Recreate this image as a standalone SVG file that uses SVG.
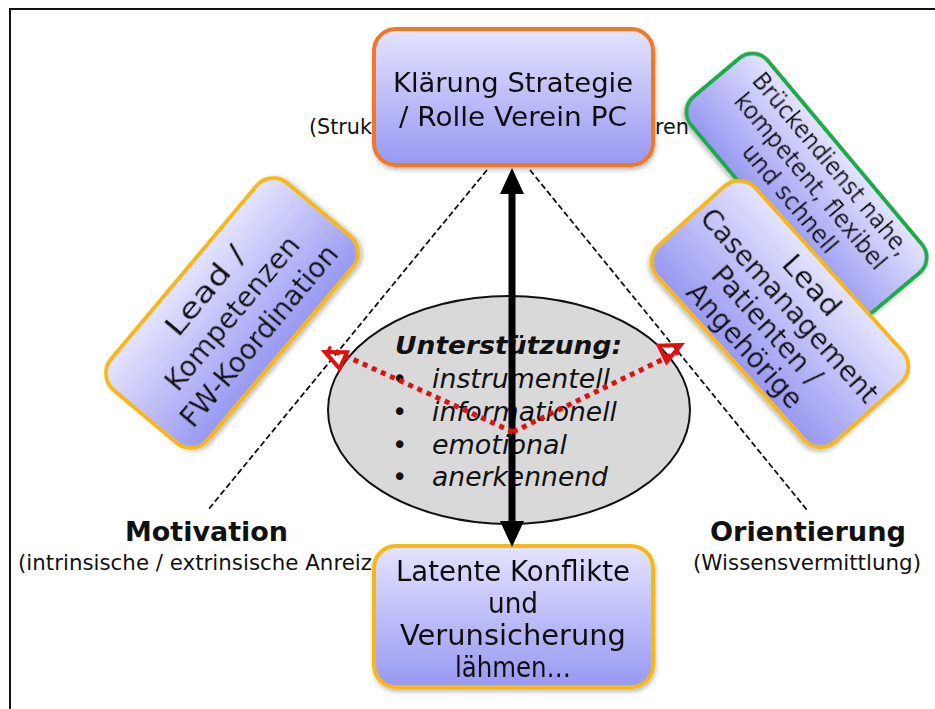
<svg xmlns="http://www.w3.org/2000/svg" width="935" height="709" viewBox="0 0 935 709">
<style>
.t{font-family:"DejaVu Sans","Verdana",sans-serif;fill:#111}
.box{stroke-width:4}
.dash{stroke:#111;stroke-width:1.8;stroke-dasharray:6 3;fill:none}
</style>
<defs>
<linearGradient id="g" x1="0" y1="0" x2="0" y2="1">
<stop offset="0" stop-color="#E4E4FF"/>
<stop offset="1" stop-color="#9898F2"/>
</linearGradient>
<marker id="ra" markerWidth="10" markerHeight="10" refX="7" refY="5" orient="auto" markerUnits="userSpaceOnUse" viewBox="0 0 10 10" overflow="visible">
<path d="M8,0 L-12,-9 L-12,9 Z" fill="none" stroke="#E01010" stroke-width="4" stroke-linejoin="miter"/>
</marker>
<filter id="sh" x="-10%" y="-10%" width="120%" height="130%">
<feDropShadow dx="1" dy="3" stdDeviation="2" flood-color="#000" flood-opacity="0.25"/>
</filter>
</defs>
<rect width="935" height="709" fill="#fff"/>
<path d="M10,709 V9 H935" fill="none" stroke="#111" stroke-width="2"/>

<g id="labels">
<text class="t" x="309" y="134" font-size="21" textLength="63" lengthAdjust="spacingAndGlyphs">(Struk</text>
<text class="t" x="655" y="134" font-size="21" textLength="34" lengthAdjust="spacingAndGlyphs">ren</text>
<text class="t" x="125" y="541" font-size="26" font-weight="bold" textLength="163" lengthAdjust="spacingAndGlyphs">Motivation</text>
<text class="t" x="18" y="570" font-size="21" textLength="354" lengthAdjust="spacingAndGlyphs">(intrinsische / extrinsische Anreiz</text>
<text class="t" x="710" y="541" font-size="26" font-weight="bold" textLength="196" lengthAdjust="spacingAndGlyphs">Orientierung</text>
<text class="t" x="693" y="570" font-size="21" textLength="228" lengthAdjust="spacingAndGlyphs">(Wissensvermittlung)</text>
</g>

<g id="guides">
<line class="dash" x1="487" y1="170" x2="208" y2="510"/>
<line class="dash" x1="530" y1="170" x2="807" y2="510"/>
</g>

<g id="unterstuetzung">
<ellipse cx="509" cy="410" rx="181" ry="114" fill="#D9D9D9" stroke="#111" stroke-width="2"/>
<text class="t" x="395" y="354" font-size="25" font-weight="bold" font-style="italic" textLength="227" lengthAdjust="spacingAndGlyphs">Unterstützung:</text>
<g font-size="26" font-style="italic">
<text class="t" x="392" y="388" font-style="normal">•</text>
<text class="t" x="432" y="388" textLength="178" lengthAdjust="spacingAndGlyphs">instrumentell</text>
<text class="t" x="392" y="421" font-style="normal">•</text>
<text class="t" x="432" y="421" textLength="185" lengthAdjust="spacingAndGlyphs">informationell</text>
<text class="t" x="392" y="454" font-style="normal">•</text>
<text class="t" x="432" y="454" textLength="135" lengthAdjust="spacingAndGlyphs">emotional</text>
<text class="t" x="392" y="486" font-style="normal">•</text>
<text class="t" x="432" y="486" textLength="176" lengthAdjust="spacingAndGlyphs">anerkennend</text>
</g>
</g>

<g id="top-box" filter="url(#sh)">
<rect class="box" x="374" y="29" width="279" height="136" rx="22" fill="url(#g)" stroke="#F07828"/>
<text class="t" x="513" y="92" font-size="27" text-anchor="middle" textLength="240" lengthAdjust="spacingAndGlyphs">Klärung Strategie</text>
<text class="t" x="513" y="126" font-size="27" text-anchor="middle" textLength="228" lengthAdjust="spacingAndGlyphs">/ Rolle Verein PC</text>
</g>

<g id="left-box" filter="url(#sh)" transform="translate(232,313) rotate(-50)">
<rect class="box" x="-135" y="-63" width="270" height="126" rx="22" fill="url(#g)" stroke="#F5B812"/>
<g font-size="29" text-anchor="middle">
<text class="t" x="0" y="-25" textLength="108" lengthAdjust="spacingAndGlyphs">Lead /</text>
<text class="t" x="0" y="10" textLength="192" lengthAdjust="spacingAndGlyphs">Kompetenzen</text>
<text class="t" x="0" y="45" textLength="228" lengthAdjust="spacingAndGlyphs">FW-Koordination</text>
</g>
</g>

<g id="green-box" filter="url(#sh)" transform="translate(805,186) rotate(50)">
<rect class="box" x="-140" y="-52" width="280" height="100" rx="20" fill="url(#g)" stroke="#1EAA4E"/>
<g font-size="25" text-anchor="middle">
<text class="t" x="0" y="-26" textLength="230" lengthAdjust="spacingAndGlyphs">Brückendienst nahe,</text>
<text class="t" x="0" y="1" textLength="222" lengthAdjust="spacingAndGlyphs">kompetent, flexibel</text>
<text class="t" x="0" y="28" textLength="134" lengthAdjust="spacingAndGlyphs">und schnell</text>
</g>
</g>

<g id="right-box" filter="url(#sh)" transform="translate(780,314) rotate(48)">
<rect class="box" x="-132" y="-66" width="264" height="132" rx="22" fill="url(#g)" stroke="#F5B812"/>
<g font-size="28" text-anchor="middle">
<text class="t" x="0" y="-33" textLength="72" lengthAdjust="spacingAndGlyphs">Lead</text>
<text class="t" x="0" y="-3" textLength="250" lengthAdjust="spacingAndGlyphs">Casemanagement</text>
<text class="t" x="0" y="27" textLength="150" lengthAdjust="spacingAndGlyphs">Patienten /</text>
<text class="t" x="0" y="57" textLength="158" lengthAdjust="spacingAndGlyphs">Angehörige</text>
</g>
</g>

<g id="bottom-box" filter="url(#sh)">
<rect class="box" x="374" y="546" width="279" height="141" rx="22" fill="url(#g)" stroke="#F5B812"/>
<g font-size="28" text-anchor="middle">
<text class="t" x="513" y="581" textLength="234" lengthAdjust="spacingAndGlyphs">Latente Konflikte</text>
<text class="t" x="513" y="613" textLength="50" lengthAdjust="spacingAndGlyphs">und</text>
<text class="t" x="513" y="645" textLength="226" lengthAdjust="spacingAndGlyphs">Verunsicherung</text>
<text class="t" x="513" y="677" textLength="116" lengthAdjust="spacingAndGlyphs">lähmen…</text>
</g>
</g>

<g id="connectors">
<line x1="512" y1="188" x2="512" y2="528" stroke="#000" stroke-width="7"/>
<polygon points="512,168 500,194 524,194" fill="#000"/>
<polygon points="512,547 500,521 524,521" fill="#000"/>
<line x1="513" y1="432" x2="328" y2="348" stroke="#E01010" stroke-width="5" stroke-dasharray="5 5" marker-end="url(#ra)"/>
<line x1="513" y1="432" x2="682" y2="350" stroke="#E01010" stroke-width="5" stroke-dasharray="5 5" marker-end="url(#ra)"/>
</g>
</svg>
